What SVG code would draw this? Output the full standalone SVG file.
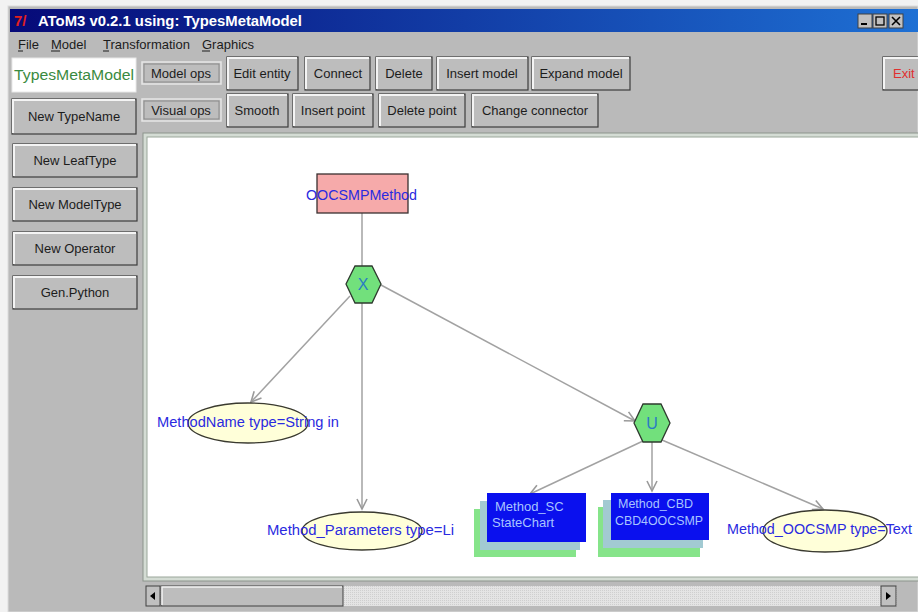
<svg xmlns="http://www.w3.org/2000/svg" width="918" height="612" viewBox="0 0 918 612">
  <style>
    .ui { font-family: "Liberation Sans", Arial, sans-serif; font-size: 13px; fill: #1c1c1c; }
    .c { text-anchor: middle; }
    .btn { fill: #bdbdbd; stroke: #3c3c3c; stroke-width: 1.2; }
    .hi { fill: none; stroke: #f4f4f4; stroke-width: 2; }
    .flat { fill: #bdbdbd; stroke: #e6e6e6; stroke-width: 1.5; }
    .flatin { fill: none; stroke: #8a8a8a; stroke-width: 1; }
    .lbl { font-family: "Liberation Sans", Arial, sans-serif; font-size: 14px; fill: #2a2ae0; }
    .box { font-family: "Liberation Sans", Arial, sans-serif; font-size: 13px; fill: #a8c4ff; }
    .ell { fill: #ffffd9; stroke: #3a3a30; stroke-width: 1.3; }
    .hex { fill: #72e07c; stroke: #2e3a2e; stroke-width: 1.3; }
    .op { font-family: "Liberation Sans", Arial, sans-serif; font-size: 16px; fill: #2a7cc4; text-anchor: middle; }
    .edge { fill: none; stroke: #a2a2a2; stroke-width: 1.5; }
  </style>
  <defs>
    <linearGradient id="titleGrad" x1="0" y1="0" x2="1" y2="0">
      <stop offset="0" stop-color="#060a78"/>
      <stop offset="1" stop-color="#1e70d4"/>
    </linearGradient>
    <pattern id="dither" width="2" height="2" patternUnits="userSpaceOnUse">
      <rect width="2" height="2" fill="#e4e4e4"/>
      <rect width="1" height="1" fill="#cfcfcf"/>
    </pattern>
    <marker id="arrow" markerWidth="14" markerHeight="12" refX="11" refY="6" orient="auto" markerUnits="userSpaceOnUse">
      <path d="M1,1 L11,6 L1,11" fill="none" stroke="#9a9a9a" stroke-width="1.6"/>
    </marker>
  </defs>

  <!-- desktop and window frame -->
  <rect x="0" y="0" width="918" height="612" fill="#f2f2f2"/>
  <rect x="8" y="6" width="910" height="606" fill="#bababa" stroke="#dcdcdc" stroke-width="1"/>

  <!-- title bar -->
  <g id="titlebar">
    <rect x="10" y="9" width="908" height="23" fill="url(#titleGrad)"/>
    <text x="14" y="26" font-family="Liberation Sans, Arial, sans-serif" font-size="15" font-weight="bold" fill="#e02020">7/</text>
    <text x="38" y="26" font-family="Liberation Sans, Arial, sans-serif" font-size="14" font-weight="bold" fill="#ffffff" textLength="264" lengthAdjust="spacingAndGlyphs">AToM3 v0.2.1 using: TypesMetaModel</text>
    <rect x="858" y="14" width="14" height="14" fill="#c0c0c0" stroke="#404040"/>
    <rect x="861" y="23" width="6" height="2" fill="#000"/>
    <rect x="873" y="14" width="14" height="14" fill="#c0c0c0" stroke="#404040"/>
    <rect x="876" y="17" width="8" height="8" fill="none" stroke="#000" stroke-width="1.3"/>
    <rect x="889" y="14" width="14" height="14" fill="#c0c0c0" stroke="#404040"/>
    <path d="M892,17 L900,25 M900,17 L892,25" stroke="#000" stroke-width="1.6"/>
  </g>

  <!-- menu -->
  <g id="menu" class="ui">
    <text x="18" y="49">File</text>
    <text x="51" y="49">Model</text>
    <text x="103" y="49">Transformation</text>
    <text x="202" y="49">Graphics</text>
    <path d="M18,51 h5 M51,51 h9 M103,51 h6 M202,51 h8" stroke="#1c1c1c" stroke-width="1"/>
  </g>

  <!-- model name field -->
  <g id="model-name">
    <rect x="12" y="58" width="124" height="34" fill="#ffffff" stroke="#e8e8e8"/>
    <text x="14" y="80" font-family="Liberation Sans, Arial, sans-serif" font-size="14" fill="#3a8a40" textLength="120" lengthAdjust="spacingAndGlyphs">TypesMetaModel</text>
  </g>

  <!-- toolbar row 1 -->
  <g id="toolbar-model" class="ui">
    <rect class="flat" x="142" y="62" width="79" height="22"/>
    <rect class="flatin" x="144" y="64" width="75" height="18"/>
    <text class="c" x="181" y="78">Model ops</text>

    <rect class="btn" x="227" y="57" width="71" height="33"/>
    <path class="hi" d="M228,89 V58 H297"/>
    <text class="c" x="262" y="78">Edit entity</text>

    <rect class="btn" x="305" y="57" width="65" height="33"/>
    <path class="hi" d="M306,89 V58 H369"/>
    <text class="c" x="338" y="78">Connect</text>

    <rect class="btn" x="376" y="57" width="56" height="33"/>
    <path class="hi" d="M377,89 V58 H431"/>
    <text class="c" x="404" y="78">Delete</text>

    <rect class="btn" x="437" y="57" width="91" height="33"/>
    <path class="hi" d="M438,89 V58 H527"/>
    <text class="c" x="482" y="78">Insert model</text>

    <rect class="btn" x="532" y="57" width="98" height="33"/>
    <path class="hi" d="M533,89 V58 H629"/>
    <text class="c" x="581" y="78">Expand model</text>

    <rect class="btn" x="883" y="57" width="40" height="33"/>
    <path class="hi" d="M884,89 V58 H918"/>
    <text x="893" y="78" font-family="Liberation Sans, Arial, sans-serif" font-size="13" fill="#e03030">Exit</text>
  </g>

  <!-- toolbar row 2 -->
  <g id="toolbar-visual" class="ui">
    <rect class="flat" x="142" y="99" width="79" height="22"/>
    <rect class="flatin" x="144" y="101" width="75" height="18"/>
    <text class="c" x="181" y="115">Visual ops</text>

    <rect class="btn" x="227" y="94" width="61" height="33"/>
    <path class="hi" d="M228,126 V95 H287"/>
    <text class="c" x="257" y="115">Smooth</text>

    <rect class="btn" x="293" y="94" width="80" height="33"/>
    <path class="hi" d="M294,126 V95 H372"/>
    <text class="c" x="333" y="115">Insert point</text>

    <rect class="btn" x="379" y="94" width="86" height="33"/>
    <path class="hi" d="M380,126 V95 H464"/>
    <text class="c" x="422" y="115">Delete point</text>

    <rect class="btn" x="472" y="94" width="126" height="33"/>
    <path class="hi" d="M473,126 V95 H597"/>
    <text class="c" x="535" y="115">Change connector</text>
  </g>

  <!-- type buttons -->
  <g id="type-buttons" class="ui">
    <rect class="btn" x="12" y="99" width="124" height="35"/>
    <path class="hi" d="M13,133 V100 H135"/>
    <text class="c" x="74" y="121">New TypeName</text>

    <rect class="btn" x="13" y="144" width="124" height="33"/>
    <path class="hi" d="M14,176 V145 H136"/>
    <text class="c" x="75" y="165">New LeafType</text>

    <rect class="btn" x="13" y="188" width="124" height="33"/>
    <path class="hi" d="M14,220 V189 H136"/>
    <text class="c" x="75" y="209">New ModelType</text>

    <rect class="btn" x="13" y="232" width="124" height="33"/>
    <path class="hi" d="M14,264 V233 H136"/>
    <text class="c" x="75" y="253">New Operator</text>

    <rect class="btn" x="13" y="276" width="124" height="33"/>
    <path class="hi" d="M14,308 V277 H136"/>
    <text class="c" x="75" y="297">Gen.Python</text>
  </g>

  <!-- drawing canvas -->
  <g id="canvas">
    <rect x="143" y="133" width="780" height="448" fill="#d4dcd4" stroke="#8c948c" stroke-width="1"/>
    <rect x="147" y="137" width="776" height="440" fill="#ffffff" stroke="#9aa69a" stroke-width="1"/>
  </g>

  <!-- scrollbar -->
  <g id="scrollbar">
    <rect x="146" y="586" width="751" height="20" fill="url(#dither)"/>
    <rect x="146" y="586" width="14" height="20" fill="#c0c0c0" stroke="#404040"/>
    <path d="M155,592 L150,596 L155,600 Z" fill="#000"/>
    <rect x="161" y="586" width="182" height="20" fill="#bdbdbd" stroke="#404040"/>
    <path d="M162,605 V587 H342" fill="none" stroke="#f4f4f4" stroke-width="1.5"/>
    <rect x="881" y="586" width="15" height="20" fill="#c0c0c0" stroke="#404040"/>
    <path d="M886,592 L891,596 L886,600 Z" fill="#000"/>
  </g>

  <!-- connectors -->
  <g id="connectors">
    <path class="edge" d="M362,213 L362,266"/>
    <path class="edge" d="M350,296 L251,402" marker-end="url(#arrow)"/>
    <path class="edge" d="M362,303 L362,509" marker-end="url(#arrow)"/>
    <path class="edge" d="M381,285 L635,421" marker-end="url(#arrow)"/>
    <path class="edge" d="M643,441 L530,494" marker-end="url(#arrow)"/>
    <path class="edge" d="M652,442 L652,491" marker-end="url(#arrow)"/>
    <path class="edge" d="M662,440 L823,509" marker-end="url(#arrow)"/>
  </g>

  <!-- nodes -->
  <g id="OOCSMPMethod">
    <rect x="317" y="174" width="91" height="39" fill="#f6aaaa" stroke="#3a3030" stroke-width="1.3"/>
    <text class="lbl" x="306" y="200" textLength="111" lengthAdjust="spacingAndGlyphs">OOCSMPMethod</text>
  </g>

  <g id="op-X">
    <polygon class="hex" points="346,284 355,266 372,266 381,284 372,303 355,303"/>
    <text class="op" x="363" y="290">X</text>
  </g>

  <g id="op-U">
    <polygon class="hex" points="634,423 643,404 661,404 670,423 661,442 643,442"/>
    <text class="op" x="652" y="429">U</text>
  </g>

  <g id="MethodName">
    <ellipse class="ell" cx="248" cy="423" rx="60" ry="20"/>
    <text class="lbl" x="157" y="427" textLength="182" lengthAdjust="spacingAndGlyphs">MethodName type=String in</text>
  </g>

  <g id="Method_Parameters">
    <ellipse class="ell" cx="362" cy="531" rx="60" ry="19"/>
    <text class="lbl" x="267" y="535" textLength="187" lengthAdjust="spacingAndGlyphs">Method_Parameters type=Li</text>
  </g>

  <g id="Method_OOCSMP">
    <ellipse class="ell" cx="825" cy="531" rx="62" ry="21"/>
    <text class="lbl" x="727" y="534" textLength="185" lengthAdjust="spacingAndGlyphs">Method_OOCSMP type=Text</text>
  </g>

  <g id="Method_SC">
    <rect x="474" y="509" width="102" height="48" fill="#86e48a"/>
    <rect x="480" y="501" width="100" height="49" fill="#a2cad2"/>
    <rect x="487" y="493" width="99" height="49" fill="#0a10ee"/>
    <text class="box" x="495" y="511">Method_SC</text>
    <text class="box" x="492" y="527">StateChart</text>
  </g>

  <g id="Method_CBD">
    <rect x="598" y="507" width="102" height="50" fill="#86e48a"/>
    <rect x="603" y="500" width="100" height="48" fill="#a2cad2"/>
    <rect x="611" y="493" width="98" height="47" fill="#0a10ee"/>
    <text class="box" x="618" y="508" textLength="75" lengthAdjust="spacingAndGlyphs">Method_CBD</text>
    <text class="box" x="615" y="525" textLength="88" lengthAdjust="spacingAndGlyphs">CBD4OOCSMP</text>
  </g>
</svg>
